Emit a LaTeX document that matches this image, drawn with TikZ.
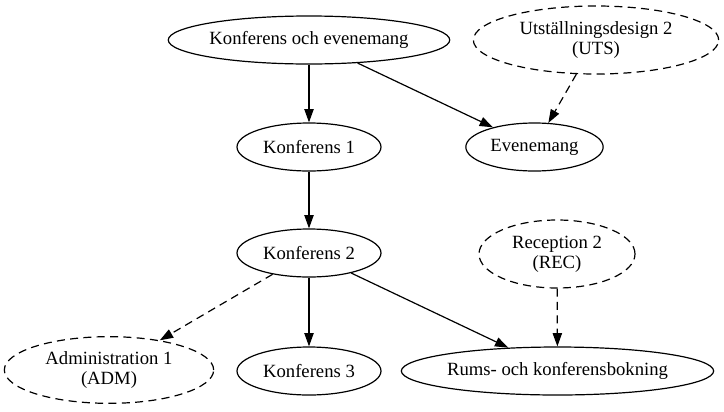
\documentclass[tikz,border=0pt]{standalone}
\usepackage{fontspec}
\setmainfont{Liberation Serif}
\usepackage{tikz}
\usetikzlibrary{shapes,arrows.meta}
\begin{document}
\begin{tikzpicture}[x=0.75pt,y=-0.75pt,line width=0.9pt,
  nd/.style={draw,ellipse,inner sep=0pt,minimum height=36pt,align=center,font=\fontsize{14pt}{15pt}\selectfont},
  opt/.style={nd,dashed,dash pattern=on 6pt off 4pt},
  ed/.style={-{Triangle[length=10pt,width=7pt]}},
  oped/.style={ed,dash pattern=on 6pt off 4pt}]
\useasboundingbox(0,0)rectangle(724,411);
\node[nd,minimum width=208pt](koe)at(309,40){Konferens och evenemang};
\node[opt,minimum width=184pt,minimum height=51pt](uts)at(596,40){Utställningsdesign 2\\(UTS)};
\node[nd,minimum width=108pt](k1)at(309,147){Konferens 1};
\node[nd,minimum width=103pt](eve)at(534.5,147){Evenemang};
\node[nd,minimum width=108pt](k2)at(309,253){Konferens 2};
\node[opt,minimum width=117pt,minimum height=51pt](rec)at(557,254){Reception 2\\(REC)};
\node[opt,minimum width=157pt,minimum height=50pt](adm)at(109,370){Administration 1\\(ADM)};
\node[nd,minimum width=108pt](k3)at(309,371){Konferens 3};
\node[nd,minimum width=232pt](rums)at(557.5,371){Rums- och konferensbokning};
\draw[ed](koe)--(k1);\draw[ed](koe)--(eve);\draw[oped](uts)--(eve);
\draw[ed](k1)--(k2);
\draw[oped](k2)--(adm);\draw[ed](k2)--(k3);\draw[ed](k2)--(rums);\draw[oped](rec)--(rums);
\end{tikzpicture}
\end{document}
